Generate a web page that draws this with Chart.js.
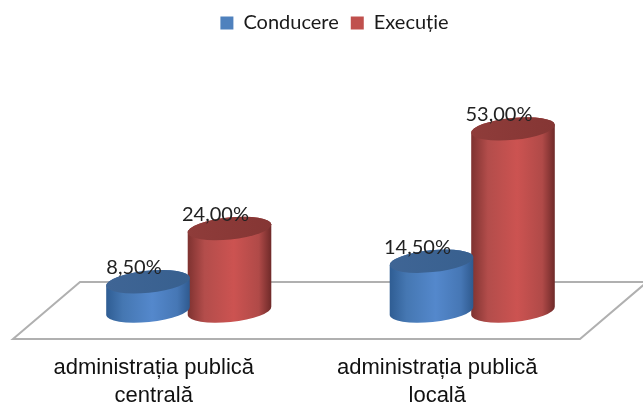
<!DOCTYPE html>
<html>
<head>
<meta charset="utf-8">
<style>
  html, body { margin: 0; padding: 0; background: #fff; overflow: hidden; }
  canvas { display: block; }
</style>
<script src="https://cdn.jsdelivr.net/npm/chart.js@4/dist/chart.umd.js"></script>
</head>
<body>
<canvas id="chart" width="643" height="404"></canvas>
<script>
const categories = [['administrația publică', 'centrală'], ['administrația publică', 'locală']]
const conducere = [8.5, 14.5]
const executie = [24, 53]

const shades = {
  '#4f81bd': { stops: ['#2f5d93', '#4577b2', '#5488cc', '#4677b5', '#2f5a8f'], top: '#3f6595', top2: '#38608f' },
  '#c0504d': { stops: ['#7e3230', '#b34d4b', '#cc5351', '#b04a48', '#6f2a29'], top: '#8f3c3a', top2: '#853634' }
}

const percentText = (v) => v.toFixed(2).replace('.', ',') + '%'

const cylinder = (ctx, bar, colors) => {
  const a = 42
  const b = 11
  const tilt = -0.1
  const dx = a * Math.cos(tilt)
  const body = ctx.createLinearGradient(bar.x - dx, 0, bar.x + dx, 0)
  body.addColorStop(0, colors.stops[0])
  body.addColorStop(0.2, colors.stops[1])
  body.addColorStop(0.55, colors.stops[2])
  body.addColorStop(0.85, colors.stops[3])
  body.addColorStop(1, colors.stops[4])
  ctx.beginPath()
  ctx.ellipse(bar.x, bar.base, a, b, tilt, 0, Math.PI)
  ctx.ellipse(bar.x, bar.y, a, b, tilt, Math.PI, 0)
  ctx.closePath()
  ctx.fillStyle = body
  ctx.fill()
  const lid = ctx.createLinearGradient(bar.x - dx, 0, bar.x + dx, 0)
  lid.addColorStop(0, colors.top)
  lid.addColorStop(1, colors.top2)
  ctx.beginPath()
  ctx.ellipse(bar.x, bar.y, a, b, tilt, 0, Math.PI * 2)
  ctx.fillStyle = lid
  ctx.fill()
}

// floor of the 3D chart, sits around the zero line
const floorPlugin = {
  id: 'floor',
  beforeDatasetsDraw(chart) {
    const ctx = chart.ctx
    const y0 = chart.scales.y.getPixelForValue(0)
    ctx.save()
    ctx.beginPath()
    ctx.moveTo(80, y0 - 29)
    ctx.lineTo(13, y0 + 28)
    ctx.lineTo(580, y0 + 28)
    ctx.lineTo(647, y0 - 29)
    ctx.closePath()
    ctx.strokeStyle = '#b0b0b0'
    ctx.lineWidth = 2
    ctx.stroke()
    ctx.restore()
  }
}

const cylinderPlugin = {
  id: 'cylinders',
  afterLayout(chart) {
    // legend sits a bit right of the plot centre
    chart.legend.left += 4
    chart.legend.right += 4
  },
  beforeDatasetDraw(chart, args) {
    const color = chart.data.datasets[args.index].backgroundColor
    args.meta.data.forEach(bar => cylinder(chart.ctx, bar, shades[color]))
    return false
  },
  afterDatasetsDraw(chart) {
    const ctx = chart.ctx
    ctx.save()
    ctx.font = '20px Lato'
    ctx.fillStyle = '#222222'
    ctx.textAlign = 'center'
    ctx.textBaseline = 'middle'
    chart.data.datasets.forEach((ds, i) => {
      chart.getDatasetMeta(i).data.forEach((bar, j) => {
        ctx.fillText(percentText(ds.data[j]), bar.x - 14, bar.y - 14)
      })
    })
    ctx.restore()
  }
}

new Chart(document.getElementById('chart').getContext('2d'), {
  type: 'bar',
  data: {
    labels: categories,
    datasets: [
      { label: 'Conducere', data: conducere, backgroundColor: '#4f81bd' },
      { label: 'Execuție', data: executie, backgroundColor: '#c0504d' }
    ]
  },
  plugins: [floorPlugin, cylinderPlugin],
  options: {
    responsive: false,
    animation: false,
    layout: { padding: { left: 47, right: 29, top: 1, bottom: 0 } },
    datasets: { bar: { barPercentage: 1, categoryPercentage: 0.575 } },
    plugins: {
      tooltip: { enabled: false },
      legend: {
        position: 'top',
        labels: {
          boxWidth: 13,
          boxHeight: 13,
          padding: 12,
          color: '#1a1a1a',
          font: { family: 'Lato', size: 20 }
        }
      }
    },
    scales: {
      x: {
        grid: { display: false },
        border: { display: false },
        afterFit(scale) { scale.height = 93 },
        ticks: {
          padding: 35,
          labelOffset: -35,
          maxRotation: 0,
          color: '#111111',
          font: { family: 'Liberation Sans', size: 22, lineHeight: 1.27 }
        }
      },
      y: {
        display: false,
        min: 0,
        max: 78
      }
    }
  }
})
</script>
</body>
</html>
